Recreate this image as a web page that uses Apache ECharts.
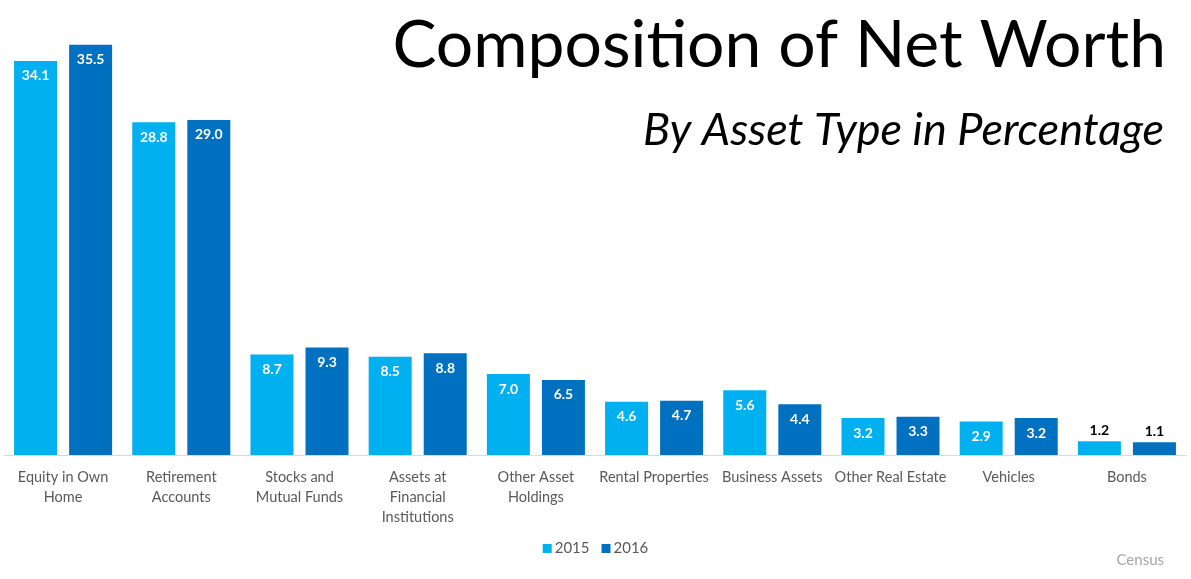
<!DOCTYPE html>
<html>
<head>
<meta charset="utf-8">
<script src="https://cdn.jsdelivr.net/npm/echarts@6/dist/echarts.min.js"></script>
<style>
html,body{margin:0;padding:0;background:#fff;}
#chart{width:1191px;height:579px;}
</style>
</head>
<body>
<div id="chart"></div>
<script>
const categories = ['Equity in Own\nHome','Retirement\nAccounts','Stocks and\nMutual Funds','Assets at\nFinancial\nInstitutions','Other Asset\nHoldings','Rental Properties','Business Assets','Other Real Estate','Vehicles','Bonds'];
const values2015 = [34.1, 28.8, 8.7, 8.5, 7.0, 4.6, 5.6, 3.2, 2.9, 1.2];
const values2016 = [35.5, 29.0, 9.3, 8.8, 6.5, 4.7, 4.4, 3.3, 3.2, 1.1];
const seriesNames = ['2015','2016'];
const titleText = 'Composition of Net Worth';
const subtitleText = 'By Asset Type in Percentage';
const sourceText = 'Census';

const FONT = 'Lato, "Open Sans", sans-serif';
const colors = ['#00B0F0', '#0070C0'];

function mkData(vals) {
  return vals.map(function (v) {
    if (v < 2) {
      return { value: v, label: { position: 'top', color: '#000000', distance: 4 } };
    }
    return v;
  });
}

const chart = echarts.init(document.getElementById('chart'), null, { renderer: 'canvas' });
chart.setOption({
  animation: false,
  backgroundColor: '#ffffff',
  title: [
    { text: titleText, right: 20, top: 8,
      textStyle: { fontFamily: FONT, fontSize: 66, fontWeight: 'normal', color: '#000' } },
    { text: subtitleText, right: 22, top: 103,
      textStyle: { fontFamily: FONT, fontSize: 45, fontWeight: 'normal', fontStyle: 'italic', color: '#000' } },
    { text: sourceText, right: 22, top: 548,
      textStyle: { fontFamily: FONT, fontSize: 15, fontWeight: 'normal', color: '#A6A6A6' } }
  ],
  legend: {
    data: seriesNames,
    left: 'center',
    top: 536,
    itemWidth: 9,
    itemHeight: 9,
    itemGap: 12,
    icon: 'rect',
    textStyle: { fontFamily: FONT, fontSize: 15, color: '#595959', padding: [0, 0, 0, -2] }
  },
  grid: { left: 4, right: 5, top: 39, bottom: 124, containLabel: false },
  xAxis: {
    type: 'category',
    data: categories,
    axisLine: { show: true, lineStyle: { color: '#D9D9D9', width: 1 } },
    axisTick: { show: false },
    axisLabel: { interval: 0, fontFamily: FONT, fontSize: 14.5, color: '#595959', lineHeight: 20, margin: 12 }
  },
  yAxis: {
    type: 'value', min: 0, max: 36,
    show: false,
    splitLine: { show: false }
  },
  series: [
    { name: seriesNames[0], type: 'bar', data: mkData(values2015), barWidth: 43, barGap: '28%',
      itemStyle: { color: colors[0] },
      label: { show: true, position: 'insideTop', distance: 8, color: '#fff', fontFamily: FONT, fontWeight: 'bold', fontSize: 14,
        formatter: function (p) { return p.value.toFixed(1); } } },
    { name: seriesNames[1], type: 'bar', data: mkData(values2016), barWidth: 43, barGap: '28%',
      itemStyle: { color: colors[1] },
      label: { show: true, position: 'insideTop', distance: 8, color: '#fff', fontFamily: FONT, fontWeight: 'bold', fontSize: 14,
        formatter: function (p) { return p.value.toFixed(1); } } }
  ]
});
</script>
</body>
</html>
